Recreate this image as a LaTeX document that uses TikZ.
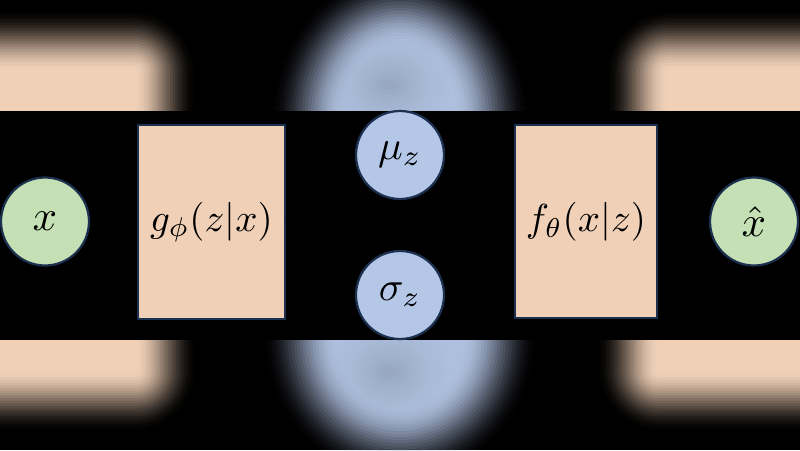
\documentclass[tikz,border=0pt]{standalone}
\usepackage{graphicx}
\usetikzlibrary{arrows.meta}
\definecolor{peach}{HTML}{F0D1B8}
\definecolor{mint}{HTML}{C5E0B4}
\definecolor{sky}{HTML}{B4C7E7}
\definecolor{skyblur}{HTML}{AEBFDD}
\definecolor{navy}{HTML}{1C3150}
\definecolor{bluegray}{HTML}{8E9CB4}
\newcommand\bigmathtxt[2]{\scalebox{#1}{$#2$}}
% smooth-step layer opacity: layer k of n
\newcommand\layerop[2]{%
  \pgfmathsetmacro\tA{#1/#2}%
  \pgfmathsetmacro\tB{(#1-1)/#2}%
  \pgfmathsetmacro\aA{\tA*\tA*(3-2*\tA)}%
  \pgfmathsetmacro\aB{\tB*\tB*(3-2*\tB)}%
  \pgfmathsetmacro\op{min(1,(\aA-\aB)/max(0.0001,1-\aB))}}
\tikzset{
  circ/.style={circle, draw=navy, line width=2.2pt, minimum size=88pt, inner sep=0pt},
  boxnode/.style={rectangle, draw=navy, line width=2.2pt, fill=peach, inner sep=0pt},
  conn/.style={draw=black, line width=1.5pt, -{Stealth[length=8pt]}},
}
\begin{document}
\begin{tikzpicture}[x=1pt, y=-1pt]
\useasboundingbox (0,0) rectangle (800,450);
\fill[black] (0,0) rectangle (800,450);
% ---- blurred backdrop, top band
\begin{scope}
\clip (0,0) rectangle (800,110);
\foreach \k in {1,...,24} {
  \layerop{\k}{24}
  \pgfmathsetmacro\d{30-60*(\k-1)/23}
  \pgfmathsetmacro\rc{max(1,32+\d)}
  \fill[peach, opacity=\op, rounded corners=\rc pt] (-80,40-\d) rectangle (166+\d,200);
  \fill[peach, opacity=\op, rounded corners=\rc pt] (636-\d,40-\d) rectangle (880,200);
}
\foreach \k in {1,...,24} {
  \layerop{\k}{24}
  \pgfmathsetmacro\d{36-72*(\k-1)/23}
  \pgfmathsetmacro\rx{max(2,94+\d)}
  \pgfmathsetmacro\ry{max(2,112+\d)}
  \fill[skyblur, opacity=\op] (400,118) ellipse [x radius=\rx, y radius=\ry];
}
\foreach \k in {1,...,12} {
  \layerop{\k}{12}
  \pgfmathsetmacro\op{0.2*\op}
  \pgfmathsetmacro\d{25-50*(\k-1)/11}
  \fill[bluegray, opacity=\op] (390,85) ellipse [x radius=35+\d, y radius=30+\d];
}
\end{scope}
% ---- blurred backdrop, bottom band
\begin{scope}
\clip (0,340) rectangle (800,450);
\foreach \k in {1,...,24} {
  \layerop{\k}{24}
  \pgfmathsetmacro\d{30-60*(\k-1)/23}
  \pgfmathsetmacro\rc{max(1,32+\d)}
  \fill[peach, opacity=\op, rounded corners=\rc pt] (-80,250) rectangle (167+\d,402+\d);
  \fill[peach, opacity=\op, rounded corners=\rc pt] (627-\d,250) rectangle (880,402+\d);
}
\foreach \k in {1,...,24} {
  \layerop{\k}{24}
  \pgfmathsetmacro\d{36-72*(\k-1)/23}
  \pgfmathsetmacro\rx{max(2,102+\d)}
  \pgfmathsetmacro\ry{max(2,110+\d)}
  \fill[skyblur, opacity=\op] (400,335) ellipse [x radius=\rx, y radius=\ry];
}
\foreach \k in {1,...,12} {
  \layerop{\k}{12}
  \pgfmathsetmacro\op{0.2*\op}
  \pgfmathsetmacro\d{25-50*(\k-1)/11}
  \fill[bluegray, opacity=\op] (390,372) ellipse [x radius=35+\d, y radius=30+\d];
}
\end{scope}
% ---- diagram
\node[circ, fill=mint] (x) at (45,221.5) {\bigmathtxt{4.3}{x}};
\node[boxnode, minimum width=147pt, minimum height=194pt] (g) at (211.5,222) {\bigmathtxt{3.9}{g_{\phi}(z|x)}};
\node[circ, fill=sky] (mu) at (400,155) {\bigmathtxt{4.1}{\mu_z}};
\node[circ, fill=sky] (sigma) at (400,295) {\bigmathtxt{4.1}{\sigma_z}};
\node[boxnode, minimum width=142pt, minimum height=193pt] (f) at (586,221.5) {\bigmathtxt{3.9}{f_{\theta}(x|z)}};
\node[circ, fill=mint] (xh) at (754,221.5) {\bigmathtxt{4.3}{\hat{x}}};
% ---- connectors (black, as in the original)
\draw[conn] (x) -- (g);
\draw[conn] (g.east) -- (mu.west);
\draw[conn] (g.east) -- (sigma.west);
\draw[conn] (mu.east) -- (f.west);
\draw[conn] (sigma.east) -- (f.west);
\draw[conn] (f) -- (xh);
\end{tikzpicture}
\end{document}
